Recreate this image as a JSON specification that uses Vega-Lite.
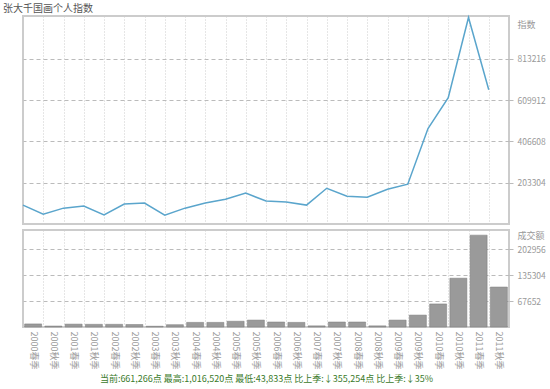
{
  "$schema": "https://vega.github.io/schema/vega-lite/v6.json",
  "padding": {"left": 3, "top": 3, "right": 0, "bottom": 0},
  "title": {"text": "张大千国画个人指数", "anchor": "start", "fontSize": 10, "font": "Noto Sans CJK SC", "fontWeight": "normal", "color": "#555555", "dx": -14, "offset": 0},
  "config": {
    "font": "Noto Sans CJK SC",
    "view": {"stroke": "#cccccc", "strokeWidth": 2},
    "axis": {"labelFont": "Noto Sans CJK SC", "titleFont": "Noto Sans CJK SC"}
  },
  "spacing": 4,
  "datasets": {
    "d": [
      {"q": "2000春季", "value": 93000, "volume": 8000},
      {"q": "2000秋季", "value": 48000, "volume": 2500},
      {"q": "2001春季", "value": 78000, "volume": 7500},
      {"q": "2001秋季", "value": 88000, "volume": 7000},
      {"q": "2002春季", "value": 45000, "volume": 7000},
      {"q": "2002秋季", "value": 98000, "volume": 6500},
      {"q": "2003春季", "value": 103000, "volume": 2000},
      {"q": "2003秋季", "value": 43833, "volume": 6000},
      {"q": "2004春季", "value": 78000, "volume": 12000},
      {"q": "2004秋季", "value": 103000, "volume": 12000},
      {"q": "2005春季", "value": 122000, "volume": 15000},
      {"q": "2005秋季", "value": 152000, "volume": 18000},
      {"q": "2006春季", "value": 113000, "volume": 13000},
      {"q": "2006秋季", "value": 108000, "volume": 12000},
      {"q": "2007春季", "value": 93000, "volume": 3000},
      {"q": "2007秋季", "value": 176000, "volume": 13000},
      {"q": "2008春季", "value": 137000, "volume": 13000},
      {"q": "2008秋季", "value": 132000, "volume": 3000},
      {"q": "2009春季", "value": 171000, "volume": 18000},
      {"q": "2009秋季", "value": 196000, "volume": 31000},
      {"q": "2010春季", "value": 470000, "volume": 60000},
      {"q": "2010秋季", "value": 622000, "volume": 127000},
      {"q": "2011春季", "value": 1016520, "volume": 239000},
      {"q": "2011秋季", "value": 661266, "volume": 104000}
    ]
  },
  "vconcat": [
    {
      "width": 486,
      "height": 208,
      "data": {"name": "d"},
      "mark": {"type": "line", "color": "#5aa5cc", "strokeWidth": 1.5},
      "encoding": {
        "x": {
          "field": "q", "type": "ordinal", "sort": null, "bandPosition": 0,
          "scale": {"paddingInner": 0, "paddingOuter": 0},
          "axis": {"labels": false, "ticks": false, "domain": false, "title": null, "grid": true, "gridDash": [1, 2], "gridColor": "#cccccc", "tickBand": "extent"}
        },
        "y": {
          "field": "value", "type": "quantitative",
          "scale": {"domain": [0, 1024000], "nice": false},
          "axis": {
            "orient": "right", "values": [203304, 406608, 609912, 813216], "format": "d",
            "grid": true, "gridDash": [4, 3], "gridColor": "#bbbbbb",
            "ticks": true, "tickDash": [4, 3], "tickColor": "#bbbbbb", "tickSize": 6,
            "domain": false, "labelColor": "#999999", "labelFontSize": 8.5, "labelPadding": 2,
            "title": "指数", "titleAngle": 0, "titleAnchor": "end", "titleAlign": "left", "titleBaseline": "top",
            "titleFontWeight": "normal", "titleColor": "#999999", "titleFontSize": 9, "titleX": 8, "titleY": 4
          }
        }
      }
    },
    {
      "width": 486,
      "height": 97,
      "data": {"name": "d"},
      "mark": {"type": "bar", "color": "#9a9a9a", "stroke": "#7a7a7a", "strokeWidth": 0.5, "width": {"band": 0.84}},
      "encoding": {
        "x": {
          "field": "q", "type": "ordinal", "sort": null,
          "scale": {"paddingInner": 0, "paddingOuter": 0},
          "axis": {
            "labelAngle": 90, "labelColor": "#999999", "labelFontSize": 9, "labelPadding": 4,
            "ticks": false, "domain": false, "grid": true, "gridDash": [1, 2], "gridColor": "#cccccc", "tickBand": "extent",
            "title": "当前:661,266点 最高:1,016,520点 最低:43,833点 比上季:↓355,254点 比上季:↓35%",
            "titleColor": "#3a7a2a", "titleFontSize": 9, "titleFontWeight": "normal", "titlePadding": 6
          }
        },
        "y": {
          "field": "volume", "type": "quantitative",
          "scale": {"domain": [0, 252400], "nice": false},
          "axis": {
            "orient": "right", "values": [67652, 135304, 202956], "format": "d",
            "grid": true, "gridDash": [4, 3], "gridColor": "#bbbbbb",
            "ticks": true, "tickDash": [4, 3], "tickColor": "#bbbbbb", "tickSize": 6,
            "domain": false, "labelColor": "#999999", "labelFontSize": 8.5, "labelPadding": 2,
            "title": "成交额", "titleAngle": 0, "titleAnchor": "end", "titleAlign": "left", "titleBaseline": "top",
            "titleFontWeight": "normal", "titleColor": "#999999", "titleFontSize": 9, "titleX": 8, "titleY": 1
          }
        }
      }
    }
  ]
}
